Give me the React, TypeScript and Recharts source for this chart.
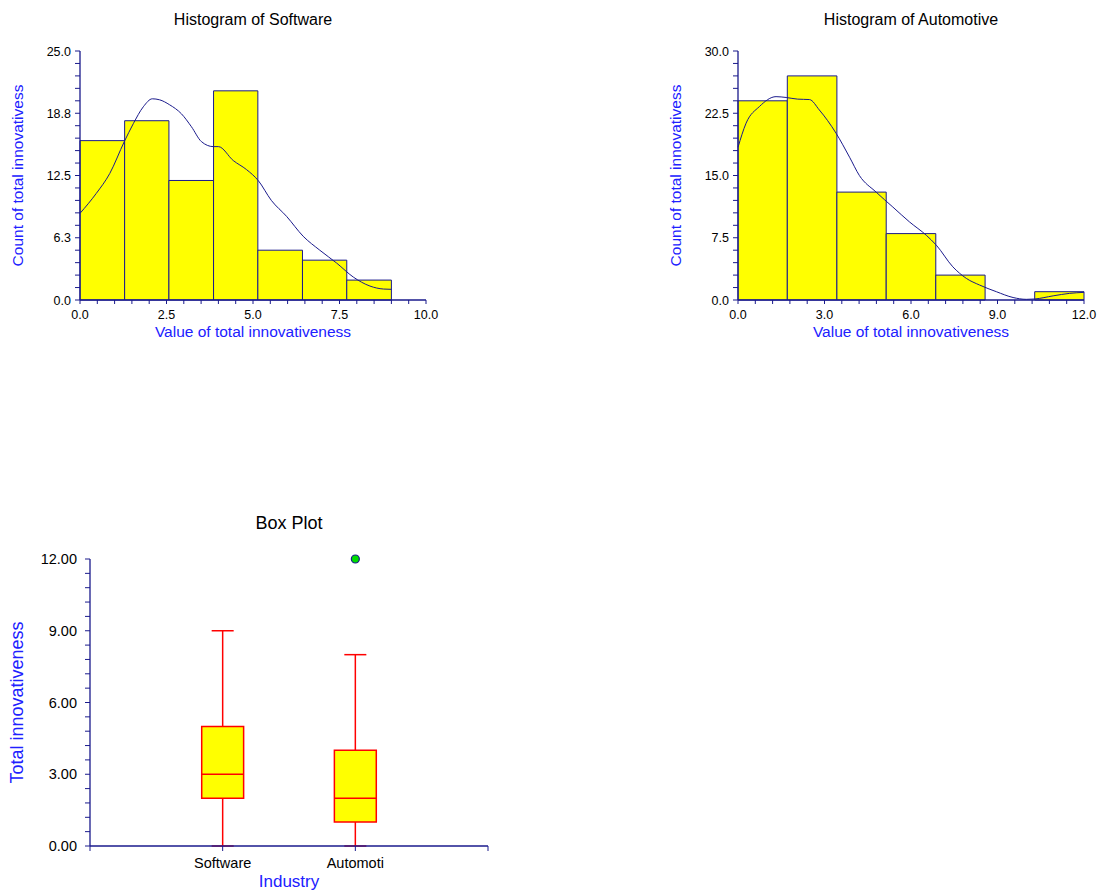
import {
  ComposedChart,
  XAxis,
  YAxis,
  Line,
  Scatter,
  ReferenceArea,
  ReferenceLine,
} from 'recharts';

const NAVY = '#1a1a8c';
const BLUE = '#2020ff';
const YELLOW = '#ffff00';
const RED = '#ff0000';
const GREEN = '#00dd00';
const FONT = '"Liberation Sans", Arial, sans-serif';

// Histogram of Software
const SW_EDGES = [0, 1.29, 2.57, 3.86, 5.14, 6.43, 7.71, 9.0];
const SW_COUNTS = [16, 18, 12, 21, 5, 4, 2];
const SW_CURVE: [number, number][] = [
  [0, 8.7], [0.47, 10.7], [0.86, 12.7], [1.28, 15.9], [1.54, 17.7], [1.83, 19.4],
  [2.09, 20.2], [2.3, 20.1], [2.59, 19.6], [2.93, 18.7], [3.22, 17.4], [3.51, 15.9],
  [3.85, 15.4], [4.0, 15.4], [4.43, 14.0], [4.81, 13.1], [5.15, 12.0], [5.53, 10.0],
  [5.97, 8.4], [6.45, 6.4], [6.93, 5.0], [7.42, 3.7], [7.9, 2.3], [8.38, 1.4],
  [8.77, 1.1], [9.0, 1.07],
];
const SW_X_TICKS = [0, 2.5, 5, 7.5, 10];
const SW_X_LABELS = ['0.0', '2.5', '5.0', '7.5', '10.0'];
const SW_Y_TICKS = [0, 6.25, 12.5, 18.75, 25];
const SW_Y_LABELS = ['0.0', '6.3', '12.5', '18.8', '25.0'];

// Histogram of Automotive
const AU_EDGES = [0, 1.71, 3.43, 5.14, 6.86, 8.57, 10.29, 12.0];
const AU_COUNTS = [24, 27, 13, 8, 3, 0, 1];
const AU_CURVE: [number, number][] = [
  [0, 18.4], [0.28, 21.3], [0.74, 23.3], [1.32, 24.5], [1.67, 24.4], [2.07, 24.2],
  [2.48, 24.15], [2.82, 22.9], [3.4, 20.1], [3.87, 17.2], [4.21, 15.0], [4.79, 13.0],
  [5.37, 11.2], [5.95, 9.4], [6.53, 7.8], [6.88, 6.6], [7.45, 4.0], [7.92, 2.6],
  [8.38, 1.8], [8.96, 1.0], [9.54, 0.3], [10.0, 0.08], [10.29, 0.12], [10.93, 0.5],
  [11.5, 0.8], [12.0, 0.92],
];
const AU_X_TICKS = [0, 3, 6, 9, 12];
const AU_X_LABELS = ['0.0', '3.0', '6.0', '9.0', '12.0'];
const AU_Y_TICKS = [0, 7.5, 15, 22.5, 30];
const AU_Y_LABELS = ['0.0', '7.5', '15.0', '22.5', '30.0'];

// Box plot
const BOX_CATS = ['Software', 'Automoti'];
const BOX_MIN = [0, 0];
const BOX_Q1 = [2, 1];
const BOX_MED = [3, 2];
const BOX_Q3 = [5, 4];
const BOX_MAX = [9, 8];
const BOX_OUTLIERS = [{ cat: 1, value: 12 }];
const BOX_Y_TICKS = [0, 3, 6, 9, 12];
const BOX_Y_LABELS = ['0.00', '3.00', '6.00', '9.00', '12.00'];

// majors plus 4 minor ticks between each pair
function subdivide(majors: number[], n = 5) {
  const out: number[] = [];
  for (let i = 0; i < majors.length - 1; i++) {
    for (let k = 0; k < n; k++) out.push(majors[i] + ((majors[i + 1] - majors[i]) * k) / n);
  }
  out.push(majors[majors.length - 1]);
  return out;
}

function labelFor(v: number, majors: number[], labels: string[]) {
  const i = majors.findIndex((m) => Math.abs(m - v) < 1e-6);
  return i >= 0 ? labels[i] : null;
}

interface HistProps {
  left: number;
  width: number;
  title: string;
  edges: number[];
  counts: number[];
  curve: [number, number][];
  xTicks: number[];
  xLabels: string[];
  yTicks: number[];
  yLabels: string[];
}

function Histogram({ left, width, title, edges, counts, curve, xTicks, xLabels, yTicks, yLabels }: HistProps) {
  const bins = counts.map((c, i) => ({ x1: edges[i], x2: edges[i + 1], count: c }));
  const lineData = curve.map(([x, y]) => ({ x, y }));
  const xMax = xTicks[xTicks.length - 1];
  const yMax = yTicks[yTicks.length - 1];

  return (
    <div style={{ position: 'absolute', left, top: 0, width, height: 345 }}>
      <div
        style={{
          position: 'absolute', left: 80, width: 346, top: 11.5, textAlign: 'center',
          fontSize: 16, lineHeight: '16px', color: '#000',
        }}
      >
        {title}
      </div>
      <ComposedChart width={width} height={345} margin={{ top: 51, right: width - 426, bottom: 3, left: 0 }}>
        <XAxis
          type="number"
          dataKey="x"
          domain={[0, xMax]}
          ticks={subdivide(xTicks)}
          interval={0}
          height={42}
          tickSize={4}
          tickMargin={2}
          stroke={NAVY}
          axisLine={{ stroke: NAVY, strokeWidth: 1.3 }}
          tick={(p: any) => {
            const t = labelFor(p.payload.value, xTicks, xLabels);
            return t ? (
              <text x={p.x} y={p.y + 13} textAnchor="middle" fontSize={12.5} fill="#000" fontFamily={FONT}>{t}</text>
            ) : <g />;
          }}
          label={{
            content: (lp: any) => {
              const vb = lp.viewBox;
              return (
                <text x={vb.x + vb.width / 2} y={vb.y + 36.5} textAnchor="middle" fontSize={15.5} fill={BLUE} fontFamily={FONT}>
                  Value of total innovativeness
                </text>
              );
            },
          }}
        />
        <YAxis
          type="number"
          domain={[0, yMax]}
          ticks={subdivide(yTicks)}
          interval={0}
          width={80}
          tickSize={5}
          tickMargin={4}
          stroke={NAVY}
          axisLine={{ stroke: NAVY, strokeWidth: 1.3 }}
          tick={(p: any) => {
            const t = labelFor(p.payload.value, yTicks, yLabels);
            return t ? (
              <text x={p.x} y={p.y + 4.5} textAnchor="end" fontSize={12.5} fill="#000" fontFamily={FONT}>{t}</text>
            ) : <g />;
          }}
          label={{
            content: (lp: any) => {
              const vb = lp.viewBox;
              const cx = vb.x + 17.5;
              const cy = vb.y + vb.height / 2;
              return (
                <text x={cx} y={cy} transform={`rotate(-90 ${cx} ${cy})`} textAnchor="middle" dominantBaseline="central" fontSize={15.5} fill={BLUE} fontFamily={FONT}>
                  Count of total innovativess
                </text>
              );
            },
          }}
        />
        {bins.map((b, i) => (
          <ReferenceArea
            key={i}
            x1={b.x1}
            x2={b.x2}
            y1={0}
            y2={b.count}
            fill={YELLOW}
            fillOpacity={1}
            stroke={NAVY}
            strokeWidth={1}
          />
        ))}
        <Line
          data={lineData}
          dataKey="y"
          type="monotone"
          dot={false}
          activeDot={false}
          stroke={NAVY}
          strokeWidth={1}
          isAnimationActive={false}
        />
      </ComposedChart>
    </div>
  );
}

function BoxPlot() {
  const outliers = BOX_OUTLIERS.map((o) => ({ x: o.cat + 1, y: o.value }));
  const half = 0.158;
  const cap = 0.083;
  return (
    <div style={{ position: 'absolute', left: 0, top: 500, width: 500, height: 391 }}>
      <div
        style={{
          position: 'absolute', left: 90, width: 398, top: 14, textAlign: 'center',
          fontSize: 18, lineHeight: '18px', color: '#000',
        }}
      >
        Box Plot
      </div>
      <ComposedChart width={500} height={391} margin={{ top: 59, right: 12, bottom: 0, left: 0 }}>
        <XAxis
          type="number"
          dataKey="x"
          domain={[0, BOX_CATS.length + 1]}
          ticks={[0, ...BOX_CATS.map((_, i) => i + 1), BOX_CATS.length + 1]}
          interval={0}
          height={45}
          tickSize={5}
          tickMargin={2}
          stroke={NAVY}
          axisLine={{ stroke: NAVY, strokeWidth: 1.3 }}
          tick={(p: any) => {
            const v = p.payload.value;
            const t = v >= 1 && v <= BOX_CATS.length ? BOX_CATS[v - 1] : null;
            return t ? (
              <text x={p.x} y={p.y + 15} textAnchor="middle" fontSize={14.5} fill="#000" fontFamily={FONT}>{t}</text>
            ) : <g />;
          }}
          label={{
            content: (lp: any) => {
              const vb = lp.viewBox;
              return (
                <text x={vb.x + vb.width / 2} y={vb.y + 41} textAnchor="middle" fontSize={17} fill={BLUE} fontFamily={FONT}>
                  Industry
                </text>
              );
            },
          }}
        />
        <YAxis
          type="number"
          dataKey="y"
          domain={[0, 12]}
          ticks={subdivide(BOX_Y_TICKS)}
          interval={0}
          width={90}
          tickSize={5}
          tickMargin={8}
          stroke={NAVY}
          axisLine={{ stroke: NAVY, strokeWidth: 1.3 }}
          tick={(p: any) => {
            const t = labelFor(p.payload.value, BOX_Y_TICKS, BOX_Y_LABELS);
            return t ? (
              <text x={p.x} y={p.y + 5} textAnchor="end" fontSize={14.5} fill="#000" fontFamily={FONT}>{t}</text>
            ) : <g />;
          }}
          label={{
            content: (lp: any) => {
              const vb = lp.viewBox;
              const cx = vb.x + 17;
              const cy = vb.y + vb.height / 2;
              return (
                <text x={cx} y={cy} transform={`rotate(-90 ${cx} ${cy})`} textAnchor="middle" dominantBaseline="central" fontSize={18} fill={BLUE} fontFamily={FONT}>
                  Total innovativeness
                </text>
              );
            },
          }}
        />
        {BOX_CATS.map((c, i) => {
          const x = i + 1;
          return [
            <ReferenceLine key={`wl${c}`} segment={[{ x, y: BOX_MIN[i] }, { x, y: BOX_Q1[i] }]} stroke={RED} strokeWidth={1.5} />,
            <ReferenceLine key={`wh${c}`} segment={[{ x, y: BOX_Q3[i] }, { x, y: BOX_MAX[i] }]} stroke={RED} strokeWidth={1.5} />,
            <ReferenceLine key={`cl${c}`} segment={[{ x: x - cap, y: BOX_MIN[i] }, { x: x + cap, y: BOX_MIN[i] }]} stroke={RED} strokeWidth={1.5} />,
            <ReferenceLine key={`ch${c}`} segment={[{ x: x - cap, y: BOX_MAX[i] }, { x: x + cap, y: BOX_MAX[i] }]} stroke={RED} strokeWidth={1.5} />,
            <ReferenceArea
              key={`b${c}`}
              x1={x - half}
              x2={x + half}
              y1={BOX_Q1[i]}
              y2={BOX_Q3[i]}
              fill={YELLOW}
              fillOpacity={1}
              stroke={RED}
              strokeWidth={1.5}
            />,
            <ReferenceLine key={`m${c}`} segment={[{ x: x - half, y: BOX_MED[i] }, { x: x + half, y: BOX_MED[i] }]} stroke={RED} strokeWidth={1.5} />,
          ];
        })}
        <Scatter
          data={outliers}
          isAnimationActive={false}
          shape={(p: any) => <circle cx={p.cx} cy={p.cy} r={4} fill={GREEN} stroke={NAVY} strokeWidth={1.2} />}
        />
      </ComposedChart>
    </div>
  );
}

export default function App() {
  return (
    <div
      style={{
        position: 'absolute', left: 0, top: 0, width: 1101, height: 891,
        overflow: 'hidden', background: '#fff', fontFamily: FONT,
      }}
    >
      <Histogram
        left={0}
        width={450}
        title="Histogram of Software"
        edges={SW_EDGES}
        counts={SW_COUNTS}
        curve={SW_CURVE}
        xTicks={SW_X_TICKS}
        xLabels={SW_X_LABELS}
        yTicks={SW_Y_TICKS}
        yLabels={SW_Y_LABELS}
      />
      <Histogram
        left={658}
        width={440}
        title="Histogram of Automotive"
        edges={AU_EDGES}
        counts={AU_COUNTS}
        curve={AU_CURVE}
        xTicks={AU_X_TICKS}
        xLabels={AU_X_LABELS}
        yTicks={AU_Y_TICKS}
        yLabels={AU_Y_LABELS}
      />
      <BoxPlot />
    </div>
  );
}
